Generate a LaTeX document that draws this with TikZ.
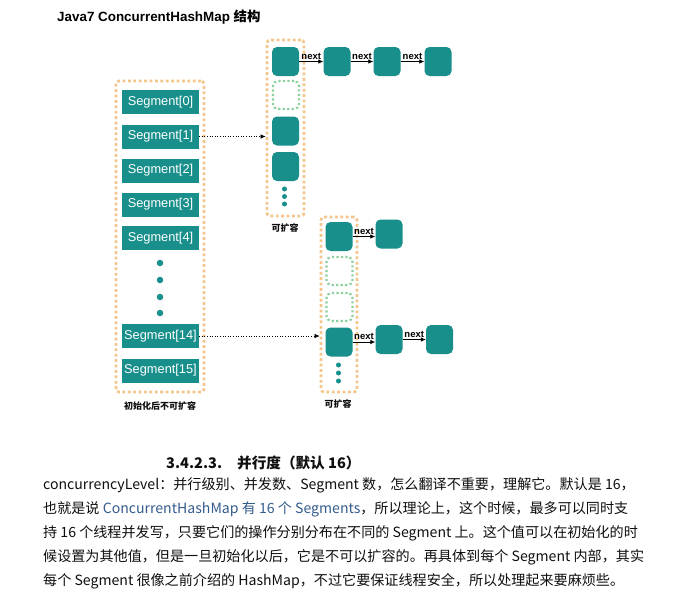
\documentclass[tikz,border=0pt]{standalone}
\usepackage{fontspec}
\setmainfont{Liberation Sans}
\newfontfamily\cjk{Noto Sans CJK SC}
\usetikzlibrary{arrows.meta}
\definecolor{tealc}{RGB}{24,143,139}
\definecolor{orangec}{RGB}{243,198,140}
\definecolor{greenc}{RGB}{140,208,158}
\definecolor{bluec}{RGB}{52,92,140}
\definecolor{textc}{RGB}{15,15,15}
\begin{document}
\begin{tikzpicture}[x=1pt,y=-1pt,
  seg/.style={rectangle, fill=tealc, text=white, minimum width=77pt, minimum height=24pt, inner sep=0pt, font=\fontsize{12.8}{14}\selectfont},
  bucket/.style={rectangle, rounded corners=5pt, fill=tealc, minimum width=27pt, minimum height=29pt, inner sep=0pt},
  ghost/.style={rectangle, rounded corners=5pt, draw=greenc, line width=2.2pt, dash pattern=on 2.2pt off 2.3pt, minimum width=26pt, minimum height=28pt, inner sep=0pt},
  outer/.style={rectangle, rounded corners=3pt, draw=orangec, line width=2.8pt, dash pattern=on 2.8pt off 2.6pt, inner sep=0pt},
  dotc/.style={circle, fill=tealc, inner sep=0pt, minimum size=6.5pt},
  sdot/.style={circle, fill=tealc, inner sep=0pt, minimum size=5pt},
  nextarr/.style={-{Latex[length=5pt,width=4.5pt]}, line width=0.8pt},
  ptr/.style={-{Latex[length=5pt,width=4.5pt]}, line width=0.6pt, dotted},
  nlab/.style={font=\bfseries\fontsize{9.5}{10}\selectfont, inner sep=0.5pt, anchor=south, yshift=1.5pt},
  capt/.style={font=\cjk\bfseries\fontsize{9}{10}\selectfont, inner sep=0pt, text=textc},
  body/.style={font=\cjk\fontsize{14.1}{16}\selectfont, anchor=west, inner sep=0pt, text=textc},
]
\useasboundingbox[fill=white] (0,0) rectangle (686,598);

% title
\node[anchor=west, inner sep=0pt, font=\bfseries\fontsize{13.4}{15}\selectfont] (title) at (57,17) {Java7 ConcurrentHashMap {\cjk 结构}};

% outer dotted boxes
\node[outer, minimum width=88pt, minimum height=311pt] (segcol) at (160,236.5) {};
\node[outer, minimum width=37pt, minimum height=176pt] (col1) at (285.5,128) {};
\node[outer, minimum width=36pt, minimum height=175pt] (col2) at (339,304.5) {};

% segments
\node[seg] (s0) at (160.5,102) {Segment[0]};
\node[seg] (s1) at (160.5,136.5) {Segment[1]};
\node[seg] (s2) at (160.5,170.5) {Segment[2]};
\node[seg] (s3) at (160.5,204.5) {Segment[3]};
\node[seg] (s4) at (160.5,238) {Segment[4]};
\node[dotc] (sd1) at (160,263) {};
\node[dotc] (sd2) at (160,280) {};
\node[dotc] (sd3) at (160,297) {};
\node[dotc] (sd4) at (160,313) {};
\node[seg] (s14) at (160.5,336) {Segment[14]};
\node[seg] (s15) at (160.5,370.5) {Segment[15]};
\node[capt] (cap0) at (160,406) {初始化后不可扩容};

% bucket column 1
\node[bucket] (b11) at (285.5,61.5) {};
\node[ghost] (b12) at (286,95) {};
\node[bucket] (b13) at (285.5,131) {};
\node[bucket] (b14) at (285.5,166.5) {};
\node[sdot] (d11) at (284.5,189) {};
\node[sdot] (d12) at (284.5,196.5) {};
\node[sdot] (d13) at (284.5,204) {};
\node[capt] (cap1) at (285,228) {可扩容};

\node[bucket] (n11) at (337,61.5) {};
\node[bucket] (n12) at (387,61.5) {};
\node[bucket] (n13) at (438,61.5) {};
\draw[nextarr] (b11) -- node[nlab]{next} (n11);
\draw[nextarr] (n11) -- node[nlab]{next} (n12);
\draw[nextarr] (n12) -- node[nlab]{next} (n13);

% bucket column 2
\node[bucket] (b21) at (339,236.5) {};
\node[ghost] (b22) at (339.5,271) {};
\node[ghost] (b23) at (339.5,307) {};
\node[bucket] (b24) at (339,342) {};
\node[sdot] (d21) at (338.5,365) {};
\node[sdot] (d22) at (338.5,373) {};
\node[sdot] (d23) at (338.5,381) {};
\node[capt] (cap2) at (338,404) {可扩容};

\node[bucket] (n21) at (389,234) {};
\node[bucket] (n24) at (389,339.5) {};
\node[bucket] (n25) at (439.5,339.5) {};
\draw[nextarr] (b21.east) -- node[nlab]{next} (b21.east -| n21.west);
\draw[nextarr] (b24.east) -- node[nlab]{next} (b24.east -| n24.west);
\draw[nextarr] (n24.east) -- node[nlab]{next} (n24.east -| n25.west);

% pointers
\draw[ptr] (s1.east) -- (s1.east -| col1.west);
\draw[ptr] (s14.east) -- (s14.east -| col2.west);

% heading
\node[anchor=west, inner sep=0pt, text=textc, font=\cjk\bfseries\fontsize{14.6}{16}\selectfont] (hnum) at (166,463) {3.4.2.3.};
\node[anchor=west, inner sep=0pt, text=textc, font=\cjk\bfseries\fontsize{14.6}{16}\selectfont] (htext) at (237,463) {并行度（默认 16）};

% paragraph
\node[body] (l1) at (43,485) {concurrencyLevel：并行级别、并发数、Segment 数，怎么翻译不重要，理解它。默认是 16，};
\node[body] (l2) at (43,509) {也就是说 \textcolor{bluec}{ConcurrentHashMap 有 16 个 Segments}，所以理论上，这个时候，最多可以同时支};
\node[body] (l3) at (43,533) {持 16 个线程并发写，只要它们的操作分别分布在不同的 Segment 上。这个值可以在初始化的时};
\node[body] (l4) at (43,557) {候设置为其他值，但是一旦初始化以后，它是不可以扩容的。再具体到每个 Segment 内部，其实};
\node[body] (l5) at (43,581) {每个 Segment 很像之前介绍的 HashMap，不过它要保证线程安全，所以处理起来要麻烦些。};
\end{tikzpicture}
\end{document}
